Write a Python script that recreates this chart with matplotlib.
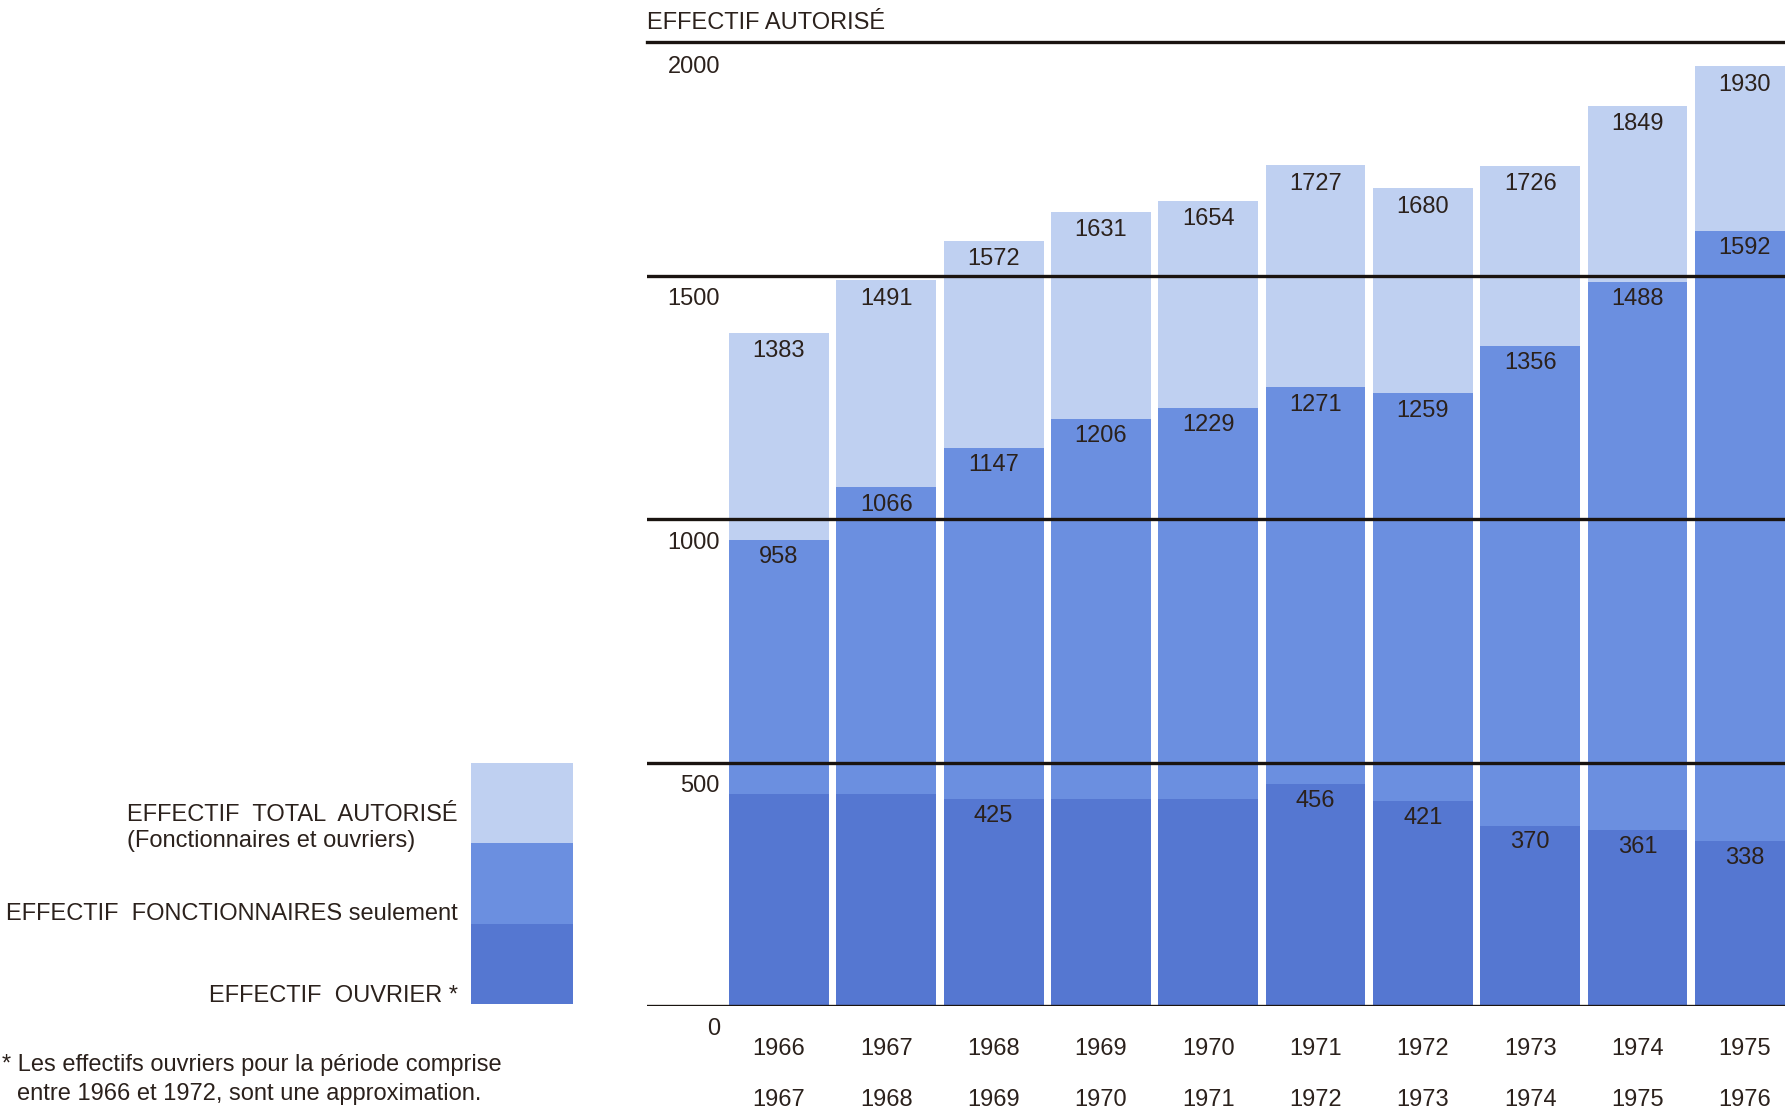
import matplotlib.pyplot as plt
import numpy as np

# donnees
periode_debut = ['1966', '1967', '1968', '1969', '1970', '1971', '1972', '1973', '1974', '1975']
periode_fin = ['1967', '1968', '1969', '1970', '1971', '1972', '1973', '1974', '1975', '1976']
total = [1383, 1491, 1572, 1631, 1654, 1727, 1680, 1726, 1849, 1930]
fonctionnaires = [958, 1066, 1147, 1206, 1229, 1271, 1259, 1356, 1488, 1592]
ouvriers = [435, 435, 425, 425, 425, 456, 421, 370, 361, 338]
ouvriers_label = [None, None, '425', None, None, '456', '421', '370', '361', '338']
graduations = [0, 500, 1000, 1500]

c_total = '#bfd0f1'
c_fonct = '#6b8fe0'
c_ouvr = '#5577d1'
c_txt = '#2b211c'
c_ligne = '#1a1410'

plt.rcParams['font.family'] = ['Liberation Sans', 'DejaVu Sans']
fs = 17

fig = plt.figure(figsize=(17.85, 11.11), dpi=100)
ax = fig.add_axes([647/1785, 1 - 1006/1111, 1 - 647/1785, (1006 - 42)/1111])

x = np.arange(len(total))
w = 0.93
ax.bar(x, total, width=w, color=c_total, zorder=1)
ax.bar(x, fonctionnaires, width=w, color=c_fonct, zorder=2)
ax.bar(x, ouvriers, width=w, color=c_ouvr, zorder=3)

ymax = 1980
ax.set_xlim(-1.23, 9.375)
ax.set_ylim(0, ymax)

# lignes horizontales
for v in graduations:
    ax.axhline(v, color=c_ligne, lw=2.4, zorder=5)
    ax.text(-0.55, v - 48, str(v), ha='right', va='center', fontsize=fs, color=c_txt)
ax.axhline(ymax, color=c_ligne, lw=2.4, zorder=5, clip_on=False)
ax.text(-0.55, ymax - 52, '2000', ha='right', va='center', fontsize=fs, color=c_txt)

for i in range(len(total)):
    ax.text(x[i], total[i] - 38, str(total[i]), ha='center', va='center', fontsize=fs, color=c_txt, zorder=6)
    ax.text(x[i], fonctionnaires[i] - 36, str(fonctionnaires[i]), ha='center', va='center', fontsize=fs, color=c_txt, zorder=6)
    if ouvriers_label[i]:
        ax.text(x[i], ouvriers[i] - 34, ouvriers_label[i], ha='center', va='center', fontsize=fs, color=c_txt, zorder=6)
    ax.text(x[i], -89, periode_debut[i], ha='center', va='center', fontsize=fs, color=c_txt, clip_on=False)
    ax.text(x[i], -194, periode_fin[i], ha='center', va='center', fontsize=fs, color=c_txt, clip_on=False)

ax.axis('off')

fig.text(647/1785, 1 - 23/1111, 'EFFECTIF AUTORISÉ', ha='left', va='center', fontsize=fs, color=c_txt)

# legende
lg = fig.add_axes([471/1785, 1 - 1004/1111, 102/1785, 241/1111])
lg.bar([0], [1], bottom=[2], width=1, color=c_total)
lg.bar([0], [1], bottom=[1], width=1, color=c_fonct)
lg.bar([0], [1], bottom=[0], width=1, color=c_ouvr)
lg.set_xlim(-0.5, 0.5)
lg.set_ylim(0, 3)
lg.axis('off')

lx = 458/1785
fig.text(lx, 1 - 828/1111, 'EFFECTIF  TOTAL  AUTORISÉ\n(Fonctionnaires et ouvriers)', ha='right', va='center',
         multialignment='left', linespacing=1.18, fontsize=fs, color=c_txt)
fig.text(lx, 1 - 914/1111, 'EFFECTIF  FONCTIONNAIRES seulement', ha='right', va='center', fontsize=fs, color=c_txt)
fig.text(lx, 1 - 996/1111, 'EFFECTIF  OUVRIER *', ha='right', va='center', fontsize=fs, color=c_txt)

fig.text(2/1785, 1 - 1065/1111, '* Les effectifs ouvriers pour la période comprise', ha='left', va='center', fontsize=fs, color=c_txt)
fig.text(17/1785, 1 - 1094/1111, 'entre 1966 et 1972, sont une approximation.', ha='left', va='center', fontsize=fs, color=c_txt)

fig.savefig('out.png', dpi=100)
